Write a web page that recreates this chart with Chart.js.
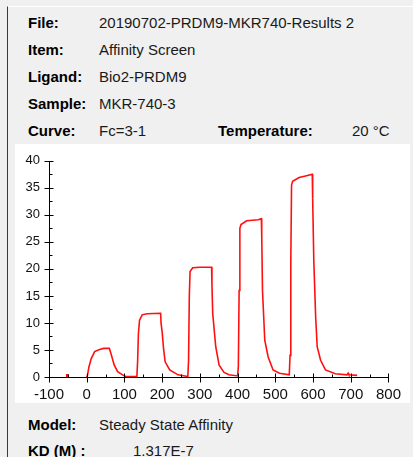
<!DOCTYPE html>
<html>
<head>
<meta charset="utf-8">
<script src="https://cdn.jsdelivr.net/npm/chart.js@4.4.1/dist/chart.umd.min.js"></script>
<style>
  html, body { margin: 0; padding: 0; }
  body { width: 413px; height: 457px; background: #f0f0f0; position: relative; overflow: hidden;
         font-family: "Liberation Sans", Arial, sans-serif; font-size: 15px; color: #1a1a1a; }
  .frame { position: absolute; left: 7px; top: 6px; width: 406px; height: 460px;
           border-left: 1px solid #3a3a3a; border-top: 1px solid #ffffff; }
  .t { position: absolute; line-height: 15px; white-space: nowrap; }
  .b { font-weight: bold; color: #000; }
  #panel { position: absolute; left: 15px; top: 144px; width: 395px; height: 259px; background: #fff; }
  #chart { position: absolute; left: 0; top: 0; }
</style>
</head>
<body>
<div class="frame"></div>

<div class="t b" style="left:28px;top:15px">File:</div>
<div class="t" style="left:99px;top:15px">20190702-PRDM9-MKR740-Results 2</div>
<div class="t b" style="left:28px;top:42px">Item:</div>
<div class="t" style="left:99px;top:42px">Affinity Screen</div>
<div class="t b" style="left:28px;top:69px">Ligand:</div>
<div class="t" style="left:99px;top:69px">Bio2-PRDM9</div>
<div class="t b" style="left:28px;top:96px">Sample:</div>
<div class="t" style="left:99px;top:96px">MKR-740-3</div>
<div class="t b" style="left:28px;top:123px">Curve:</div>
<div class="t" style="left:99px;top:123px">Fc=3-1</div>
<div class="t b" style="left:218px;top:123px">Temperature:</div>
<div class="t" style="left:352px;top:123px">20 °C</div>

<div id="panel"><canvas id="chart" width="395" height="259"></canvas></div>

<div class="t b" style="left:28px;top:417px">Model:</div>
<div class="t" style="left:99px;top:417px">Steady State Affinity</div>
<div class="t b" style="left:28px;top:443px">KD (M) :</div>
<div class="t" style="left:133px;top:443px">1.317E-7</div>

<script>
// sensorgram (time s, response RU)
const times = [
  -60, -54, -53, -50, -49, -2,
  2, 6, 12, 21, 34, 45, 60, 64, 73, 82, 95, 103, 133,
  135, 137, 140, 147, 160, 196, 197, 200, 204, 208, 220, 242, 268,
  270, 272, 274, 281, 300, 331, 332, 334, 342, 351, 364, 377, 400,
  402, 404, 406, 409, 424, 455, 463, 464, 466, 472, 481, 494, 511, 537,
  539, 541, 543, 546, 563, 580, 598, 599, 602, 607, 611, 620, 633, 659, 690, 693, 695, 717
];
const response = [
  -0.3, -0.3, 0.4, 0.4, -0.3, -0.3,
  0.3, 1.9, 3.4, 4.7, 5.1, 5.3, 5.3, 4.4, 2.2, 1.0, 0.4, 0.1, 0.1,
  3, 8, 10.5, 11.5, 11.7, 11.8, 10, 8.3, 5, 2.8, 1.3, 0.4, 0.1,
  3, 15, 19.5, 20.2, 20.3, 20.3, 17, 11.8, 5.6, 2.2, 0.85, 0.4, 0.2,
  2, 16, 27.5, 28.2, 28.9, 29.1, 29.3, 26, 16, 6.8, 3.7, 1.3, 0.7, 0.4,
  4, 20.9, 35.5, 36.2, 36.9, 37.2, 37.5, 33, 21.5, 11, 5.6, 3.1, 1.3, 0.6, 0.4, 0.7, 0.4, 0.3
];

const xMin = -100, xMax = 800, xStep = 100, xMinor = 50;
const yMin = 0, yMax = 40, yStep = 5, yMinor = 2.5;

const points = times.map((t, i) => ({ x: t, y: response[i] }));

// axis lines + crossing ticks, drawn over the curve
const axisPlugin = {
  id: 'axisTicks',
  afterDatasetsDraw(chart) {
    const ctx = chart.ctx;
    const xs = chart.scales.x, ys = chart.scales.y;
    const x0 = Math.round(xs.getPixelForValue(xMin)) + 0.5;
    const y0 = Math.round(ys.getPixelForValue(yMin)) + 0.5;
    ctx.save();
    ctx.strokeStyle = '#000';
    ctx.lineWidth = 1;
    ctx.beginPath();
    ctx.moveTo(x0, Math.round(ys.getPixelForValue(yMax)));
    ctx.lineTo(x0, y0);
    ctx.lineTo(Math.round(xs.getPixelForValue(xMax)) + 1, y0);
    for (let v = yMin; v <= yMax; v += yMinor) {
      const p = Math.round(ys.getPixelForValue(v)) + 0.5;
      const major = v % yStep === 0;
      ctx.moveTo(x0 - (major ? 5 : 0), p);
      ctx.lineTo(x0 + (major ? 4 : 3), p);
    }
    for (let v = xMin; v <= xMax; v += xMinor) {
      const p = Math.round(xs.getPixelForValue(v)) + 0.5;
      const major = v % xStep === 0;
      ctx.moveTo(p, y0 - (major ? 4 : 3));
      ctx.lineTo(p, y0 + (major ? 5 : 0));
    }
    ctx.stroke();
    ctx.restore();
  }
};

new Chart(document.getElementById('chart'), {
  type: 'line',
  data: {
    datasets: [{
      data: points,
      borderColor: '#ff1010',
      borderWidth: 1.6,
      pointRadius: 0,
      tension: 0,
      fill: false
    }]
  },
  options: {
    responsive: false,
    animation: false,
    devicePixelRatio: 1,
    layout: { padding: { top: 16, right: 15, left: 0, bottom: 0 } },
    plugins: { legend: { display: false }, tooltip: { enabled: false } },
    scales: {
      x: {
        type: 'linear',
        min: xMin, max: xMax,
        grid: { display: false, drawTicks: false },
        border: { display: false },
        ticks: { stepSize: xStep, padding: 9, color: '#111', maxRotation: 0,
                 font: { family: 'Liberation Sans', size: 15 } },
        afterFit(scale) { scale.height = 26; }
      },
      y: {
        min: yMin, max: yMax,
        grid: { display: false, drawTicks: false },
        border: { display: false },
        ticks: { stepSize: yStep, padding: 9, color: '#111',
                 font: { family: 'Liberation Sans', size: 13 } },
        afterFit(scale) { scale.width = 34; }
      }
    }
  },
  plugins: [axisPlugin]
});
</script>
</body>
</html>
